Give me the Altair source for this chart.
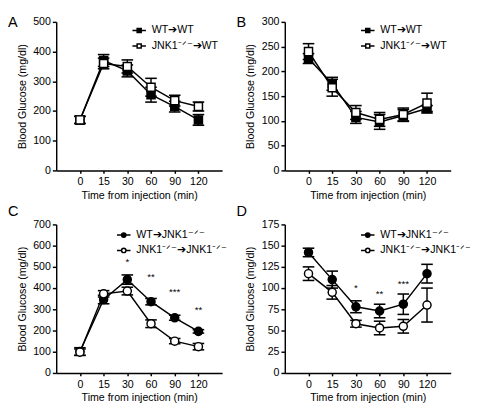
import altair as alt
import pandas as pd

times = ["0", "15", "30", "60", "90", "120"]

# Panel A
a_names = ["WT➔WT", "JNK1⁻ᐟ⁻➔WT"]
a_wt = [170, 370, 335, 255, 215, 170]
a_wt_err = [12, 20, 20, 25, 18, 18]
a_ko = [170, 360, 350, 280, 235, 215]
a_ko_err = [12, 18, 22, 30, 18, 15]

# Panel B
b_names = ["WT➔WT", "JNK1⁻ᐟ⁻➔WT"]
b_wt = [226, 175, 107, 98, 111, 125]
b_wt_err = [10, 13, 12, 15, 12, 6]
b_ko = [240, 167, 117, 103, 113, 136]
b_ko_err = [16, 17, 14, 14, 13, 20]

# Panel C
c_names = ["WT➔JNK1⁻ᐟ⁻", "JNK1⁻ᐟ⁻➔JNK1⁻ᐟ⁻"]
c_wt = [101, 346, 440, 336, 260, 196]
c_wt_err = [18, 20, 22, 15, 12, 8]
c_ko = [98, 373, 386, 232, 150, 124]
c_ko_err = [15, 15, 18, 18, 12, 15]
c_star_x = ["30", "60", "90", "120"]
c_star_y = [522, 452, 380, 297]
c_star_t = ["*", "**", "***", "**"]

# Panel D
d_names = ["WT➔JNK1⁻ᐟ⁻", "JNK1⁻ᐟ⁻➔JNK1⁻ᐟ⁻"]
d_wt = [142, 110, 78, 73, 81, 117]
d_wt_err = [5, 10, 7, 8, 12, 11]
d_ko = [117, 95, 58, 53, 55, 80]
d_ko_err = [8, 8, 4, 8, 8, 20]
d_star_x = ["30", "60", "90"]
d_star_y = [100, 93, 105]
d_star_t = ["*", "**", "***"]

FONT = "Liberation Sans"
SQ_PATH = "M-1,0H-0.3M0.3,0H1M-0.3,-0.3H0.3V0.3H-0.3Z"
CI_PATH = "M-1,0H-0.32M0.32,0H1M0.32,0A0.32,0.32 0 1,1 -0.32,0A0.32,0.32 0 1,1 0.32,0Z"


def panel(letter, letter_y, names, wt, wt_err, ko, ko_err, ymax, ystep, shape,
          sym_path, legend_x, legend_y, star_x=None, star_y=None, star_t=None):
    rows = []
    for name, vals, errs in ((names[0], wt, wt_err), (names[1], ko, ko_err)):
        for t, m, e in zip(times, vals, errs):
            rows.append({"time": t, "series": name, "mean": m, "lo": m - e, "hi": m + e})
    df = pd.DataFrame(rows)

    xaxis = alt.Axis(title="Time from injection (min)", labelAngle=0, ticks=True,
                     tickSize=3, labelPadding=3, titlePadding=3, grid=False)
    yaxis = alt.Axis(title="Blood Glucose (mg/dl)", values=list(range(0, ymax + 1, ystep)),
                     tickSize=4, labelPadding=2, titlePadding=6, grid=False)
    xs = alt.Scale(type="point", padding=1)
    ys = alt.Scale(domain=[0, ymax], nice=False)

    def X():
        return alt.X("time:O", sort=times, scale=xs, axis=xaxis)

    def Y(f):
        return alt.Y(f"{f}:Q", scale=ys, axis=yaxis)

    base = alt.Chart(df)
    line = base.mark_line(color="black", strokeWidth=1.5).encode(
        x=X(), y=Y("mean"), detail="series:N")
    rule = base.mark_rule(color="black", strokeWidth=1.5).encode(
        x=X(), y=Y("lo"), y2="hi:Q")
    cap_lo = base.mark_tick(color="black", thickness=1.6, size=12, opacity=1).encode(
        x=X(), y=Y("lo"))
    cap_hi = base.mark_tick(color="black", thickness=1.6, size=12, opacity=1).encode(
        x=X(), y=Y("hi"))
    pts = base.mark_point(shape=shape, filled=True, size=70, stroke="black",
                          strokeWidth=1.5, opacity=1).encode(
        x=X(), y=Y("mean"),
        fill=alt.Fill("series:N", scale=alt.Scale(domain=names, range=["black", "white"]),
                      legend=alt.Legend(title=None, orient="none", legendX=legend_x,
                                        legendY=legend_y, symbolType=sym_path,
                                        symbolSize=196, symbolStrokeColor="black",
                                        symbolStrokeWidth=1.5, labelFont=FONT,
                                        labelFontSize=11, labelColor="black",
                                        rowPadding=2, padding=0, labelOffset=5)))
    layers = [line, rule, cap_lo, cap_hi, pts]
    if star_x is not None:
        sdf = pd.DataFrame({"time": star_x, "y": star_y, "t": star_t})
        stars = alt.Chart(sdf).mark_text(font=FONT, fontSize=10, color="black",
                                         baseline="middle").encode(
            x=X(), y=Y("y"), text="t:N")
        layers.append(stars)
    ldf = pd.DataFrame({"l": [letter]})
    lab = alt.Chart(ldf).mark_text(font=FONT, fontSize=15, color="black", align="left",
                                   baseline="top").encode(
        x=alt.value(-50), y=alt.value(letter_y), text="l:N")
    layers.append(lab)
    return alt.layer(*layers).properties(width=172, height=154)


pA = panel("A", -7, a_names, a_wt, a_wt_err, a_ko, a_ko_err, 500, 100, "square",
           SQ_PATH, 78, 1)
pB = panel("B", -7, b_names, b_wt, b_wt_err, b_ko, b_ko_err, 300, 50, "square",
           SQ_PATH, 78, 1)
pC = panel("C", -21, c_names, c_wt, c_wt_err, c_ko, c_ko_err, 700, 100, "circle",
           CI_PATH, 62, 3, c_star_x, c_star_y, c_star_t)
pD = panel("D", -21, d_names, d_wt, d_wt_err, d_ko, d_ko_err, 175, 25, "circle",
           CI_PATH, 78, 3, d_star_x, d_star_y, d_star_t)

chart = alt.concat(pA, pB, pC, pD, columns=2,
                   spacing={"row": 56, "column": 65}, bounds="flush").resolve_scale(
    fill="independent").resolve_legend(fill="independent").properties(
    padding={"left": 0, "top": 0, "right": 0, "bottom": 0}
).configure_view(stroke=None).configure_axis(
    domainColor="black", domainWidth=1.5, tickColor="black", tickWidth=1.5,
    labelFont=FONT, labelFontSize=11, labelColor="black",
    titleFont=FONT, titleFontSize=11, titleFontWeight="normal", titleColor="black"
)

chart.save("out.html", embed_options={"renderer": "svg", "actions": False})
